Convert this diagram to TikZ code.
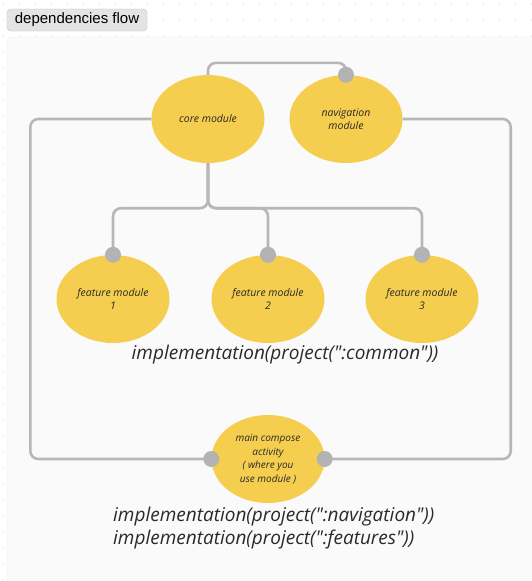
\documentclass[tikz,border=0pt]{standalone}
\usepackage{fontspec}
\setmainfont{Liberation Sans}
\newfontfamily\hand{Open Sans}
\usetikzlibrary{shapes.geometric}
\definecolor{modfill}{HTML}{F5CD4F}
\definecolor{linkgray}{HTML}{B7B7B7}
\definecolor{dotgray}{HTML}{B3B3B3}
\definecolor{panel}{HTML}{FAFAFA}
\definecolor{panelline}{HTML}{EEEEEE}
\definecolor{titlefill}{HTML}{E4E4E4}
\definecolor{titleline}{HTML}{BDBDBD}
\definecolor{textdark}{HTML}{2A2A2A}
\tikzset{
  mod/.style={ellipse, fill=modfill, minimum width=113pt, minimum height=88pt,
    inner sep=0pt, align=center, font=\hand\itshape\fontsize{10.5}{13.5}\selectfont, text=textdark},
  link/.style={draw=linkgray, line width=2.6pt, rounded corners=8pt},
  port/.style={circle, fill=dotgray, minimum size=16pt, inner sep=0pt},
  code/.style={font=\hand\itshape\fontsize{19}{23}\selectfont, text=textdark, inner sep=0pt},
}
\begin{document}
\begin{tikzpicture}[x=1pt, y=-1pt]
  \useasboundingbox (0,0) rectangle (532,581);
  \fill[white] (0,0) rectangle (532,581);
  % dotted canvas
  \foreach \i in {0,...,33} \foreach \j in {0,1,2} {
    \fill[black!18] (3+\i*16, 4+\j*16) circle (0.6pt);
  }
  \foreach \j in {3,...,36} \fill[black!18] (3, 4+\j*16) circle (0.6pt);
  % panel
  \filldraw[fill=panel, draw=panelline, rounded corners=5pt] (7,37) rectangle (545,595);
  % title tab
  \node[draw=titleline, fill=titlefill, rounded corners=4pt, minimum width=140pt,
        minimum height=22pt, inner sep=0pt, text=black, font=\fontsize{15}{17}\selectfont]
        (title) at (77,20) {dependencies flow};

  % modules
  \node[mod] (core) at (208,119) {core module};
  \node[mod] (nav)  at (346,119) {navigation\\module};
  \node[mod] (f1)   at (113,299) {feature module\\1};
  \node[mod] (f2)   at (268,299) {feature module\\2};
  \node[mod] (f3)   at (422,299) {feature module\\3};
  \node[mod, font=\hand\itshape\fontsize{10}{13.5}\selectfont] (main) at (268,459) {main compose\\activity\\( where you\\use module )};

  % connectors
  \draw[link] (core.north) -- ++(0,-12) -| (nav.north);
  \draw[link] (core.south) -- ++(0,45) -| (f1.north);
  \draw[link] (core.south) -- ++(0,45) -| (f2.north);
  \draw[link] (core.south) -- ++(0,45) -| (f3.north);
  \draw[link] (core.west) -- ++(-121,0) |- (main.west);
  \draw[link] (nav.east) -- ++(108,0) |- (main.east);

  % ports
  \node[port] (pnav) at (nav.north) {};
  \node[port] (pf1)  at (f1.north) {};
  \node[port] (pf2)  at (f2.north) {};
  \node[port] (pf3)  at (f3.north) {};
  \node[port] (pml)  at (main.west) {};
  \node[port] (pmr)  at (main.east) {};

  % gradle lines
  \node[code] (common) at (285,355) {implementation(project(":common"))};
  \node[code, anchor=west] (navdep) at (113,517) {implementation(project(":navigation"))};
  \node[code, anchor=west] (featdep) at (113,540) {implementation(project(":features"))};
\end{tikzpicture}
\end{document}
